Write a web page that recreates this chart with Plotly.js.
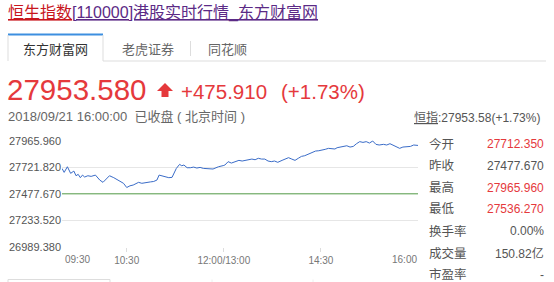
<!DOCTYPE html>
<html><head><meta charset="utf-8">
<script src="https://cdn.plot.ly/plotly-3.0.1.min.js"></script>
<style>html,body{margin:0;padding:0;background:#fff;overflow:hidden}#chart{width:554px;height:282px;}</style>
</head><body><div id="chart"></div>
<script>
// ---------- data ----------
const pageTitleName = "恒生指数";
const pageTitleRest = "[110000]港股实时行情_东方财富网";
const tabNames = ["东方财富网", "老虎证券", "同花顺"];
const lastPrice = "27953.580";
const changeAbs = "+475.910";
const changePct = "(+1.73%)";
const quoteTime = "2018/09/21 16:00:00";
const quoteStatus = "已收盘 ( 北京时间 )";
const indexShort = "恒指";
const indexSummary = ":27953.58(+1.73%)";
const prevClose = 27477.670;

const times = ["09:30","09:32","09:35","09:38","09:41","09:43","09:45","09:47","09:49","09:51","09:54","09:57",
  "10:01","10:03","10:05","10:08","10:11","10:14","10:18","10:22","10:27","10:30","10:33","10:36","10:41","10:44",
  "10:48","10:52","10:55","10:58","11:00","11:03","11:06","11:09","11:12","11:14","11:16","11:19","11:21","11:23",
  "11:26","11:29","11:32","11:35","11:38","11:41","11:46","11:50","11:55","11:58","12:00",
  "13:01","13:04","13:07","13:10","13:14","13:17","13:20","13:23","13:26","13:29","13:32","13:35","13:38","13:41",
  "13:44","13:47","13:50","13:54","13:57","14:00","14:03","14:06","14:09","14:12","14:15","14:18","14:22","14:25",
  "14:28","14:31","14:34","14:37","14:40","14:43","14:45","14:48","14:51","14:54","14:57","15:00","15:03","15:06",
  "15:09","15:12","15:15","15:18","15:21","15:24","15:28","15:31","15:34","15:37","15:40","15:43","15:46","15:50",
  "15:53","15:56","15:59","16:00"];
const prices = [27712.35,27676,27728,27667,27688,27645,27658,27627,27651,27633,27645,27639,
  27651,27627,27605,27584,27612,27645,27627,27605,27575,27536.27,27552,27559,27584,27575,
  27584,27588,27592,27605,27651,27645,27633,27627,27630,27676,27713,27750,27737,27744,
  27719,27719,27725,27716,27722,27713,27707,27707,27728,27732,27740,
  27744,27775,27762,27775,27787,27781,27787,27790,27799,27793,27806,27799,27799,27781,
  27775,27781,27769,27787,27799,27812,27799,27787,27806,27824,27830,27843,27861,27873,
  27876,27886,27889,27898,27892,27892,27904,27910,27913,27922,27910,27916,27941,27960,
  27953,27960,27947,27965.96,27935,27929,27935,27929,27941,27929,27913,27898,27910,27916,
  27916,27929,27922,27925];

const yTicks = [27965.960, 27721.820, 27477.670, 27233.520, 26989.380];
const xTickLabels = ["10:30", "12:00/13:00", "14:30"];
const xEndLabels = ["09:30", "16:00"];
const infoLabels = ["今开", "昨收", "最高", "最低", "换手率", "成交量", "市盈率"];
const infoValues = ["27712.350", "27477.670", "27965.960", "27536.270", "0.00%", "150.82亿", "-"];

// ---------- helpers ----------
function sessionIndex(t) {            // minutes into the HK trading session (lunch removed)
  const hm = t.split("/")[0].split(":").map(Number);
  const m = hm[0] * 60 + hm[1];
  return m <= 720 ? m - 570 : m - 780 + 150;
}
const W = 554, H = 282, L = 62, R = 136, T = 140, B = 35;
const PW = W - L - R, PH = H - T - B;
const px = x => (x - L) / PW;
const py = y => (H - B - y) / PH;

const RED = "#e5393c", GRAY = "#555", FONT = "Liberation Sans, Arial, Noto Sans CJK SC, sans-serif";
const annotations = [];
function label(text, x, y, size, color, anchor) {
  annotations.push({text, x: px(x), y: py(y), xref: "paper", yref: "paper", showarrow: false,
    xanchor: anchor || "left", yanchor: "middle", font: {size, color, family: FONT}, borderpad: 0});
}
const shapes = [];
function line(x0, y0, x1, y1, color, w) {
  shapes.push({type: "line", xref: "paper", yref: "paper", x0: px(x0), y0: py(y0), x1: px(x1), y1: py(y1),
    line: {color, width: w || 1}});
}

// header
label("<span style='color:#c8161d'><u>" + pageTitleName + "</u></span><u>" + pageTitleRest + "</u>", 7, 13.5, 16, "#5b2a86");
// tabs
line(8, 34.5, 103, 34.5, "#3d8fe0", 2);
line(8, 35, 8, 61, "#dddddd");
line(103, 35, 103, 61, "#dddddd");
line(103, 61, 546, 61, "#dddddd");
line(190.5, 41, 190.5, 56, "#dddddd");
const tabCenters = [55.5, 147.5, 227.5];
tabNames.forEach((t, i) => label(t, tabCenters[i], 49, 13, i === 0 ? "#333" : "#666", "center"));
// price row
label(lastPrice, 6, 89, 29.5, RED);
shapes.push({type: "path", xref: "paper", yref: "paper", fillcolor: RED, line: {width: 0},
  path: `M ${px(165)} ${py(83)} L ${px(173)} ${py(91)} L ${px(168.5)} ${py(91)} L ${px(168.5)} ${py(97)} L ${px(161.5)} ${py(97)} L ${px(161.5)} ${py(91)} L ${px(157)} ${py(91)} Z`});
label(changeAbs, 180, 91, 20.5, RED);
label(changePct, 366, 91, 20.5, RED, "right");
label(quoteTime + "  " + quoteStatus, 7, 116, 13, "#666");
label("<u>" + indexShort + "</u>" + indexSummary, 541, 117, 12, GRAY, "right");
// x end labels
label(xEndLabels[0], 64, 259.5, 10, "#777");
label(xEndLabels[1], 418, 259.5, 10, "#777", "right");
// info panel
infoLabels.forEach((t, i) => {
  const y = 144 + i * 21.8;
  label(t, 428, y, 12.5, GRAY);
  const v = parseFloat(infoValues[i]);
  const isPrice = i < 4 && i !== 1;
  label(infoValues[i], 545, y, 12, isPrice && v > prevClose ? RED : GRAY, "right");
});
// partial box at bottom
line(8, 279.5, 110, 279.5, "#dddddd");
line(8, 279.5, 8, 285, "#dddddd");
line(110, 279.5, 110, 285, "#dddddd");
line(212, 279.5, 212, 285, "#eeeeee");
line(313, 279.5, 313, 285, "#eeeeee");

const xs = times.map(sessionIndex);
const traces = [
  {x: [sessionIndex(xEndLabels[0]), sessionIndex(xEndLabels[1])], y: [prevClose, prevClose], mode: "lines",
   line: {color: "#58a14c", width: 1}, hoverinfo: "skip"},
  {x: xs, y: prices, mode: "lines", line: {color: "#3a6cc8", width: 1}, hoverinfo: "skip"}
];

const layout = {
  width: W, height: H, margin: {l: L, r: R, t: T, b: B},
  paper_bgcolor: "#fff", plot_bgcolor: "#fff", showlegend: false,
  font: {family: FONT},
  xaxis: {range: [0, 330], tickvals: xTickLabels.map(sessionIndex), ticktext: xTickLabels,
    ticks: "outside", ticklen: 4, tickcolor: "#dddddd", showgrid: false, zeroline: false, showline: false,
    tickfont: {size: 10, color: "#777"}, fixedrange: true},
  yaxis: {range: [26986.5, 27975.2], tickvals: yTicks, ticktext: yTicks.map(v => v.toFixed(3)),
    showgrid: true, gridcolor: "#e6e6e6", gridwidth: 1, zeroline: false, showline: false, ticks: "",
    tickfont: {size: 11, color: GRAY}, fixedrange: true},
  annotations, shapes
};
Plotly.newPlot("chart", traces, layout, {staticPlot: true, displayModeBar: false});
</script>
</body></html>
